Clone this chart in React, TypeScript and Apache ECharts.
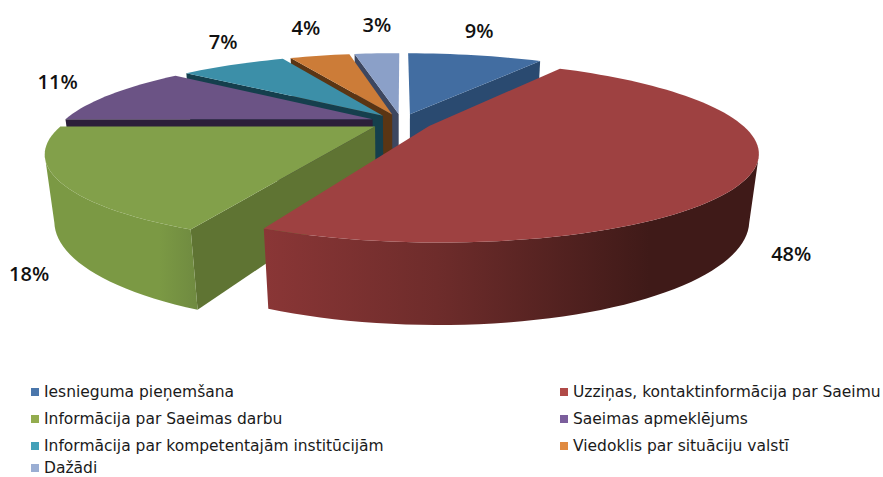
import React, { useEffect, useRef } from "react";
import * as echarts from "echarts";

const categories = [
  "Iesnieguma pieņemšana",
  "Uzziņas, kontaktinformācija par Saeimu",
  "Informācija par Saeimas darbu",
  "Saeimas apmeklējums",
  "Informācija par kompetentajām institūcijām",
  "Viedoklis par situāciju valstī",
  "Dažādi",
];
const values = [9, 47.8, 18.2, 11, 7, 4, 3];

const topColors = ["#426DA1", "#9E4141", "#82A04A", "#6B5385", "#3C8FA8", "#CC7C38", "#8BA0C8"];
const edgeColors = ["#2A4A70", "#6A2A29", "#5F7433", "#2C1F3A", "#153F4D", "#5A3514", "#3D4760"];
const legendColors = ["#4A76AB", "#B04A47", "#93AC4E", "#7B5E9C", "#43A0B8", "#E08A40", "#9AAED3"];
const wallStops: [number, string][][] = [
  [[0, "#2A4A70"], [1, "#2A4A70"]],
  [[0, "#8A3636"], [0.35, "#6E2C2B"], [0.78, "#3F1A18"], [1, "#3F1A18"]],
  [[0, "#7B9944"], [0.75, "#7B9944"], [1, "#6F8A40"]],
  [[0, "#2C1F3A"], [1, "#2C1F3A"]],
  [[0, "#153F4D"], [1, "#153F4D"]],
  [[0, "#5A3514"], [1, "#5A3514"]],
  [[0, "#3D4760"], [1, "#3D4760"]],
];
const labelNudge = [
  [4, -25],
  [39, 81],
  [-29, 93],
  [-53, -13],
  [-10, -23],
  [-14, -28],
  [0, -29],
];
// back to front
const drawOrder = [6, 5, 4, 3, 0, 2, 1];
const leftColumn = [0, 2, 4];
const lastRow = [6];
const rightColumn = [1, 3, 5];

const CX = 401.5, CY = 122, A = 310, B = 81.7, K = 0.277, Q = 0.025, D = 63.6, EXPLODE = 0.1;
const total = values.reduce((a, b) => a + b, 0);
const rad = (d: number) => (d * Math.PI) / 180;

function top(u: number, v: number) {
  const w = 1 + K * v;
  return [CX + (A * u) / w, CY - (B * v) / w];
}
function bottom(u: number, v: number) {
  const w = 1 + K * v + Q;
  return [CX + (A * u) / w, CY + (-B * v + D) / w];
}

function renderSlice(index: number) {
  return (_params: any, api: any) => {
    const value = api.value(0);
    const before = values.slice(0, index).reduce((a, b) => a + b, 0);
    const t1 = (before / total) * 360;
    const t2 = t1 + (value / total) * 360;
    const m = (t1 + t2) / 2;
    const u0 = EXPLODE * Math.sin(rad(m));
    const v0 = EXPLODE * Math.cos(rad(m));
    const at = (t: number): [number, number] => [u0 + Math.sin(rad(t)), v0 + Math.cos(rad(t))];
    const children: any[] = [];
    const steps = Math.max(8, Math.round((t2 - t1) / 2));
    const arc: [number, number][] = [];
    for (let i = 0; i <= steps; i++) arc.push(at(t1 + ((t2 - t1) * i) / steps));

    const radial = (t: number, normal: number) => {
      if (Math.cos(rad(normal)) >= -0.01) return;
      const p = at(t);
      children.push({
        type: "polygon",
        shape: { points: [top(u0, v0), top(p[0], p[1]), bottom(p[0], p[1]), bottom(u0, v0)] },
        style: { fill: edgeColors[index] },
      });
    };
    radial(t1, t1 - 90);
    radial(t2, t2 + 90);

    const frontArc = arc.filter((_, i) => Math.cos(rad(t1 + ((t2 - t1) * i) / steps)) < -0.3);
    if (frontArc.length > 1) {
      const upper = frontArc.map((p) => top(p[0], p[1]));
      const lower = frontArc.map((p) => bottom(p[0], p[1])).reverse();
      children.push({
        type: "polygon",
        shape: { points: upper.concat(lower) },
        style: {
          fill: new echarts.graphic.LinearGradient(
            0, 0, 1, 0,
            wallStops[index].map(([offset, color]) => ({ offset, color }))
          ),
        },
      });
    }

    children.push({
      type: "polygon",
      shape: { points: [top(u0, v0)].concat(arc.map((p) => top(p[0], p[1]))) },
      style: { fill: topColors[index] },
    });

    const mid = at(m);
    const anchor = top(mid[0], mid[1]);
    children.push({
      type: "text",
      x: anchor[0] + labelNudge[index][0],
      y: anchor[1] + labelNudge[index][1],
      z2: 100,
      style: {
        text: `${Math.round(value)}%`,
        fill: "#111111",
        font: '600 20px "Open Sans"',
        align: "center",
        verticalAlign: "middle",
      },
    });
    return { type: "group", children };
  };
}

const legendBase = {
  orient: "vertical" as const,
  icon: "rect",
  itemWidth: 8,
  itemHeight: 8,
  itemGap: 11,
  selectedMode: false,
  padding: 0,
  textStyle: {
    fontFamily: '"DejaVu Sans"',
    fontSize: 15.5,
    color: "#1a1a1a",
    padding: [0, 0, 0, 0],
  },
};
const legendEntries = (list: number[]) =>
  list.map((i) => ({ name: categories[i], itemStyle: { color: legendColors[i] } }));

const App = () => {
  const ref = useRef<HTMLDivElement>(null);
  useEffect(() => {
    document.body.style.margin = "0";
    const chart = echarts.init(ref.current!, null, { renderer: "svg" });
    chart.setOption({
      animation: false,
      backgroundColor: "#ffffff",
      legend: [
        { ...legendBase, left: 31, top: 384, data: legendEntries(leftColumn) },
        { ...legendBase, left: 31, top: 460, data: legendEntries(lastRow) },
        { ...legendBase, left: 560, top: 384, data: legendEntries(rightColumn) },
      ],
      series: drawOrder.map((i) => ({
        type: "custom",
        name: categories[i],
        coordinateSystem: "none",
        silent: true,
        itemStyle: { color: legendColors[i] },
        data: [[values[i]]],
        renderItem: renderSlice(i),
      })),
    });
    return () => chart.dispose();
  }, []);
  return <div ref={ref} style={{ width: 883, height: 477 }} />;
};

export default App;
